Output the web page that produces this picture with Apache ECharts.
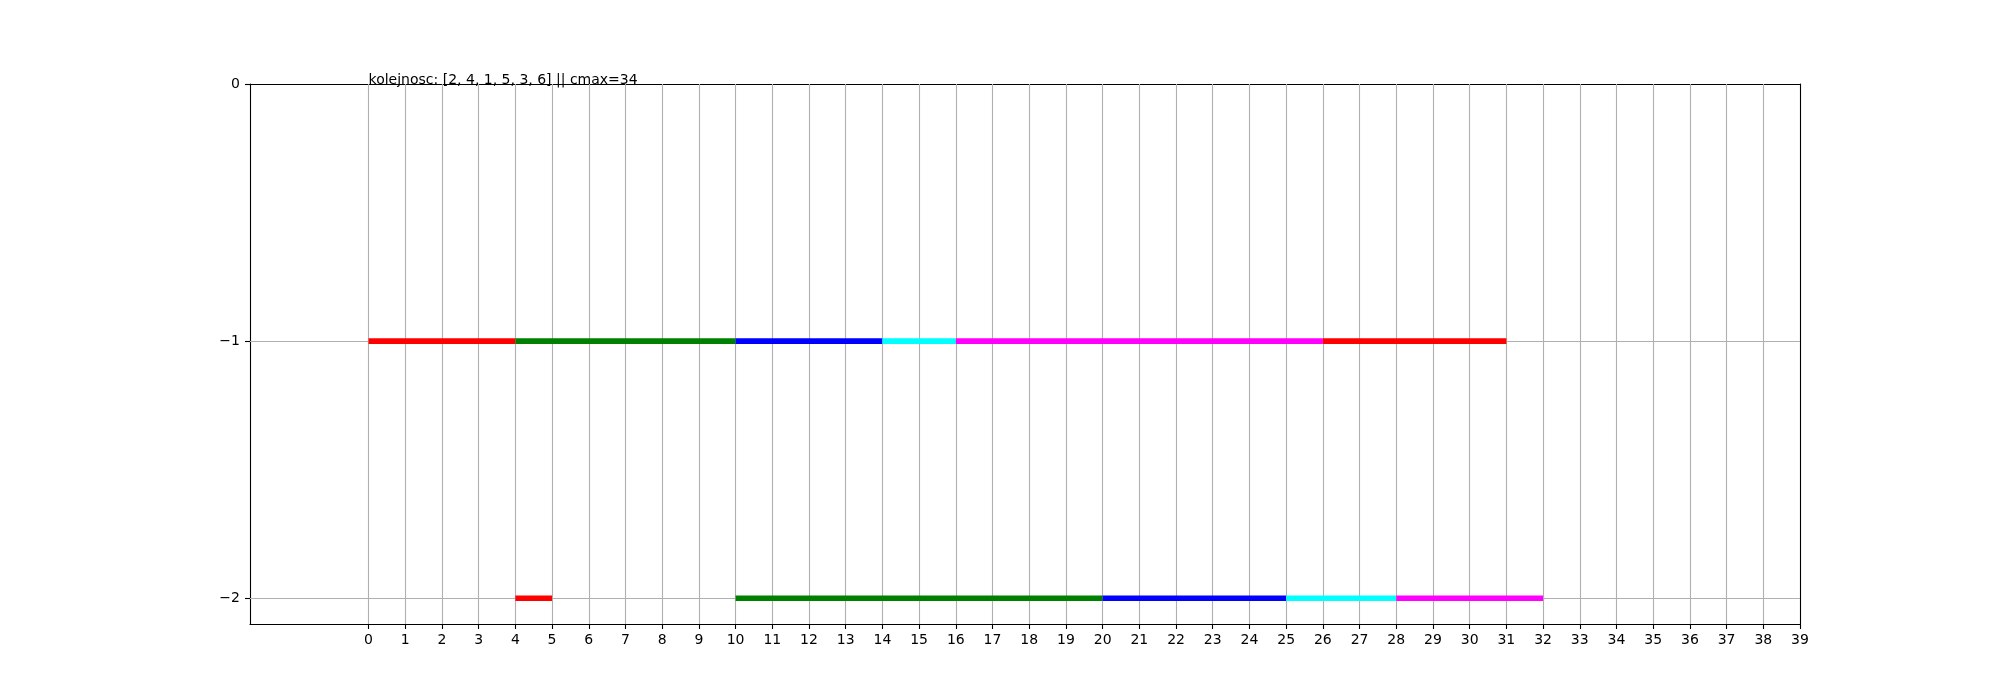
<!DOCTYPE html>
<html>
<head>
<meta charset="utf-8">
<script src="https://cdn.jsdelivr.net/npm/echarts@6/dist/echarts.min.js"></script>
<style>
html,body{margin:0;padding:0;background:#fff;}
#chart{width:2000px;height:700px;}
</style>
</head>
<body>
<div id="chart"></div>
<script>
// ---- data ----
const titleText = 'kolejnosc: [2, 4, 1, 5, 3, 6] || cmax=34';
const xTicks = [0,1,2,3,4,5,6,7,8,9,10,11,12,13,14,15,16,17,18,19,20,21,22,23,24,25,26,27,28,29,30,31,32,33,34,35,36,37,38,39];
const yTicks = [0, -1, -2];
const rowLevels = [-1, -2];
const machine1Start = [0, 4, 10, 14, 16, 26];
const machine1End   = [4, 10, 14, 16, 26, 31];
const machine2Start = [4, 10, 20, 25, 28];
const machine2End   = [5, 20, 25, 28, 32];

// ---- style ----
const palette = ['#ff0000', '#008000', '#0000ff', '#00ffff', '#ff00ff', '#ff0000'];
const FONT = 'DejaVu Sans';
const X_MIN = -3.23, X_MAX = 39, Y_MIN = -2.1, Y_MAX = 0;

const segData = [];
[[machine1Start, machine1End], [machine2Start, machine2End]].forEach(function (pair, r) {
  pair[0].forEach(function (s, i) {
    segData.push([s, pair[1][i], rowLevels[r], i]);
  });
});

const gridLines = xTicks.filter(function (v) { return v !== X_MAX; }).map(function (v) { return {xAxis: v}; })
  .concat(yTicks.filter(function (v) { return v !== Y_MAX; }).map(function (v) { return {yAxis: v}; }));

const spine = {show: true, onZero: false, lineStyle: {color: '#000', width: 1.1}};
const chart = echarts.init(document.getElementById('chart'), null, {renderer: 'canvas'});
const option = {
  animation: false,
  backgroundColor: '#ffffff',
  grid: {left: 250, right: 200, top: 84, bottom: 76, show: false},
  xAxis: [{
    type: 'value', min: X_MIN, max: X_MAX, position: 'bottom',
    axisLine: spine,
    axisTick: {show: true, customValues: xTicks, length: 5, lineStyle: {color: '#000', width: 1.1}},
    axisLabel: {show: true, customValues: xTicks, margin: 9, color: '#000', fontFamily: FONT, fontSize: 14},
    splitLine: {show: false}
  }, {
    type: 'value', min: X_MIN, max: X_MAX, position: 'top',
    axisLine: spine, axisTick: {show: false}, axisLabel: {show: false}, splitLine: {show: false}
  }],
  yAxis: [{
    type: 'value', min: Y_MIN, max: Y_MAX, position: 'left',
    axisLine: spine,
    axisTick: {show: true, customValues: yTicks, length: 5, lineStyle: {color: '#000', width: 1.1}},
    axisLabel: {show: true, customValues: yTicks, margin: 10, color: '#000', fontFamily: FONT, fontSize: 14,
      formatter: function (v) { return String(v).replace('-', '\u2212'); }},
    splitLine: {show: false}
  }, {
    type: 'value', min: Y_MIN, max: Y_MAX, position: 'right',
    axisLine: spine, axisTick: {show: false}, axisLabel: {show: false}, splitLine: {show: false}
  }],
  series: [
    {
      type: 'line', data: [], silent: true, z: 1,
      markLine: {
        silent: true, symbol: ['none', 'none'], label: {show: false}, animation: false,
        lineStyle: {color: '#b0b0b0', width: 1.1, type: 'solid'},
        emphasis: {disabled: true},
        data: gridLines
      }
    },
    {
      type: 'custom', z: 5, silent: true,
      data: segData,
      encode: {x: [0, 1], y: 2},
      renderItem: function (params, api) {
        const p1 = api.coord([api.value(0), api.value(2)]);
        const p2 = api.coord([api.value(1), api.value(2)]);
        return {
          type: 'line',
          shape: {x1: p1[0], y1: p1[1], x2: p2[0], y2: p2[1]},
          style: {stroke: palette[api.value(3)], lineWidth: 5.6, lineCap: 'butt'}
        };
      }
    }
  ]
};
chart.setOption(option);
const tp = chart.convertToPixel({gridIndex: 0}, [0, 0]);
chart.setOption({
  graphic: [{
    type: 'text', x: tp[0], y: tp[1] + 3.5, z: 10,
    style: {text: titleText, fill: '#000', font: '14px "DejaVu Sans"', textAlign: 'left', textVerticalAlign: 'bottom'}
  }]
});
</script>
</body>
</html>
